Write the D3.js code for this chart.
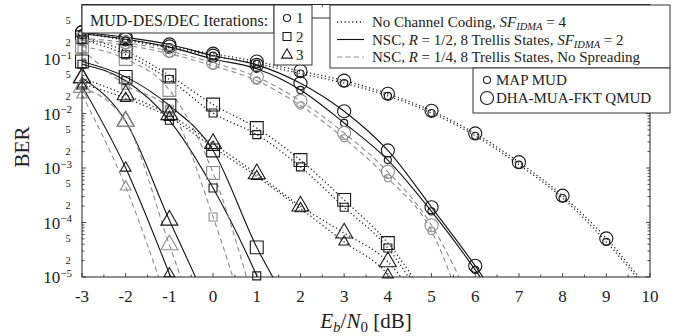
<!DOCTYPE html>
<html>
<head>
<meta charset="utf-8">
<script src="https://cdn.jsdelivr.net/npm/d3@7"></script>
<style>
  body { margin: 0; background: #fff; }
  svg { display: block; font-family: "Liberation Serif", "DejaVu Serif", serif; }
</style>
</head>
<body>
<svg id="chart" width="680" height="336"></svg>
<script>
// Eb/N0 grid [dB]
const ebn0 = [-3, -2, -1, 0, 1, 2, 3, 4, 5, 6, 7, 8, 9, 10];

// BER values (null = not simulated)
// 1 iteration (circles)
const ncIt1Map = [0.30, 0.22, 0.16, 0.115, 0.082, 0.054, 0.036, 0.021, 0.0102, 0.0039, 0.00115, 2.8e-4, 4.4e-5, 5e-6];
const ncIt1Qmud = [0.31, 0.23, 0.17, 0.125, 0.09, 0.06, 0.04, 0.023, 0.0112, 0.0043, 0.00128, 3.1e-4, 5.1e-5, 5.5e-6];
const r12It1Map = [0.29, 0.23, 0.165, 0.10, 0.066, 0.027, 0.0067, 0.0014, 1.6e-4, 1.35e-5, 8e-7, null, null, null];
const r12It1Qmud = [0.31, 0.25, 0.185, 0.115, 0.078, 0.036, 0.011, 0.0021, 1.9e-4, 1.6e-5, 1e-6, null, null, null];
const r14It1Map = [0.22, 0.18, 0.125, 0.075, 0.04, 0.014, 0.0035, 6.5e-4, 7e-5, 5e-7, null, null, null, null];
const r14It1Qmud = [0.24, 0.20, 0.14, 0.085, 0.047, 0.017, 0.0044, 8.5e-4, 8.9e-5, 2.3e-6, null, null, null, null];

// 2 iterations (squares)
const ncIt2Map = [0.23, 0.12, 0.042, 0.0102, 0.0041, 0.00105, 1.9e-4, 3.4e-5, 2e-6, null, null, null, null, null];
const ncIt2Qmud = [0.25, 0.14, 0.05, 0.0146, 0.0054, 0.0014, 2.6e-4, 4.2e-5, 3e-6, null, null, null, null, null];
const r12It2Map = [0.08, 0.04, 0.0075, 4.3e-4, 1.05e-5, 1e-7, null, null, null, null, null, null, null, null];
const r12It2Qmud = [0.09, 0.047, 0.014, 0.0021, 3.5e-5, 1.4e-6, null, null, null, null, null, null, null, null];
const r14It2Map = [0.15, 0.033, 0.012, 1.26e-4, 3.4e-7, null, null, null, null, null, null, null, null, null];
const r14It2Qmud = [0.17, 0.10, 0.027, 8.1e-4, 2.2e-6, null, null, null, null, null, null, null, null, null];

// 3 iterations (triangles)
const ncIt3Map = [0.035, 0.019, 0.0085, 0.0024, 7e-4, 1.8e-4, 4.4e-5, 1.1e-5, 5e-7, null, null, null, null, null];
const ncIt3Qmud = [0.045, 0.022, 0.0095, 0.0028, 7.8e-4, 2e-4, 6.4e-5, 1.9e-5, 1.5e-6, null, null, null, null, null];
const r12It3Map = [0.032, 1.0e-3, 1.15e-5, 1e-7, null, null, null, null, null, null, null, null, null, null];
const r12It3Qmud = [0.045, 0.0072, 1.1e-4, 2e-6, null, null, null, null, null, null, null, null, null, null];
const r14It3Map = [0.022, 4.5e-4, 2.6e-6, null, null, null, null, null, null, null, null, null, null, null];
const r14It3Qmud = [0.03, 0.0071, 3.9e-5, 2e-7, null, null, null, null, null, null, null, null, null, null];

const xTicks = [-3, -2, -1, 0, 1, 2, 3, 4, 5, 6, 7, 8, 9, 10];
const yDecades = [1e-5, 1e-4, 1e-3, 1e-2, 1e-1];
const yDecadeExps = ["5", "4", "3", "2", "1"];

const codeLabels = [
  "No Channel Coding",
  "NSC, R = 1/2, 8 Trellis States",
  "NSC, R = 1/4, 8 Trellis States, No Spreading"
];
const iterLabels = ["1", "2", "3"];
const detLabels = ["MAP MUD", "DHA-MUA-FKT QMUD"];

const series = [
  { ber: ncIt1Map, code: "nc", iter: 1, det: "map" },
  { ber: ncIt1Qmud, code: "nc", iter: 1, det: "qmud" },
  { ber: r12It1Map, code: "r12", iter: 1, det: "map" },
  { ber: r12It1Qmud, code: "r12", iter: 1, det: "qmud" },
  { ber: r14It1Map, code: "r14", iter: 1, det: "map" },
  { ber: r14It1Qmud, code: "r14", iter: 1, det: "qmud" },
  { ber: ncIt2Map, code: "nc", iter: 2, det: "map" },
  { ber: ncIt2Qmud, code: "nc", iter: 2, det: "qmud" },
  { ber: r12It2Map, code: "r12", iter: 2, det: "map" },
  { ber: r12It2Qmud, code: "r12", iter: 2, det: "qmud" },
  { ber: r14It2Map, code: "r14", iter: 2, det: "map" },
  { ber: r14It2Qmud, code: "r14", iter: 2, det: "qmud" },
  { ber: ncIt3Map, code: "nc", iter: 3, det: "map" },
  { ber: ncIt3Qmud, code: "nc", iter: 3, det: "qmud" },
  { ber: r12It3Map, code: "r12", iter: 3, det: "map" },
  { ber: r12It3Qmud, code: "r12", iter: 3, det: "qmud" },
  { ber: r14It3Map, code: "r14", iter: 3, det: "map" },
  { ber: r14It3Qmud, code: "r14", iter: 3, det: "qmud" }
];

// Styles
const lineStyle = {
  nc: { dash: "1.2,2.6", color: "#222" },
  r12: { dash: null, color: "#111" },
  r14: { dash: "5,3.5", color: "#8c8c8c" }
};
const shapes = { 1: d3.symbolCircle, 2: d3.symbolSquare, 3: d3.symbolTriangle };
const symbolSize = {
  1: { map: 40, qmud: 135 },
  2: { map: 64, qmud: 165 },
  3: { map: 50, qmud: 125 }
};

// Layout
const plot = { left: 82, right: 650, top: 4.5, bottom: 277 };
const svg = d3.select("#chart");

const x = d3.scaleLinear().domain([-3, 10]).range([plot.left, plot.right]);
const y = d3.scaleLog().domain([1e-5, 1]).range([plot.bottom, plot.top]);

svg.append("rect").attr("width", 680).attr("height", 336).attr("fill", "#fff");

svg.append("clipPath").attr("id", "plot-clip")
  .append("rect")
  .attr("x", plot.left).attr("y", plot.top)
  .attr("width", plot.right - plot.left).attr("height", plot.bottom - plot.top);

// Ticks (inward, mirrored)
const ticksG = svg.append("g").attr("stroke", "#222").attr("stroke-width", 0.8);
d3.range(-3, 10.01, 0.5).forEach((v) => {
  const len = Number.isInteger(v) ? 4 : 2.5;
  ticksG.append("line").attr("x1", x(v)).attr("x2", x(v)).attr("y1", plot.bottom).attr("y2", plot.bottom - len);
  ticksG.append("line").attr("x1", x(v)).attr("x2", x(v)).attr("y1", plot.top).attr("y2", plot.top + len);
});
yDecades.concat([1]).forEach((dec) => {
  const mults = dec === 1 ? [1] : d3.range(1, 10);
  mults.forEach((m) => {
    const v = dec * m;
    const len = m === 1 ? 4 : 2.5;
    ticksG.append("line").attr("x1", plot.left).attr("x2", plot.left + len).attr("y1", y(v)).attr("y2", y(v));
    ticksG.append("line").attr("x1", plot.right).attr("x2", plot.right - len).attr("y1", y(v)).attr("y2", y(v));
  });
});

// Curves
const line = d3.line()
  .x((d) => x(d[0]))
  .y((d) => y(d[1]))
  .curve(d3.curveMonotoneX);

const curvesG = svg.append("g").attr("clip-path", "url(#plot-clip)");
series.forEach((s) => {
  const pts = ebn0.map((e, i) => [e, s.ber[i]]).filter((d) => d[1] != null);
  const st = lineStyle[s.code];
  curvesG.append("path")
    .attr("d", line(pts))
    .attr("fill", "none")
    .attr("stroke", st.color)
    .attr("stroke-width", s.code === "nc" ? 1.3 : 1.1)
    .attr("stroke-dasharray", st.dash);
});

// Markers
const markersG = svg.append("g");
series.forEach((s) => {
  const pts = ebn0.map((e, i) => [e, s.ber[i]]).filter((d) => d[1] != null && d[1] >= 0.999e-5);
  const sym = d3.symbol().type(shapes[s.iter]).size(symbolSize[s.iter][s.det]);
  markersG.selectAll(null)
    .data(pts)
    .enter()
    .append("path")
    .attr("d", sym)
    .attr("transform", (d) => `translate(${x(d[0])},${y(d[1])})`)
    .attr("fill", "none")
    .attr("stroke", s.code === "r14" ? "#8c8c8c" : "#1a1a1a")
    .attr("stroke-width", 1.1);
});

// Frame
svg.append("rect")
  .attr("x", plot.left).attr("y", plot.top)
  .attr("width", plot.right - plot.left).attr("height", plot.bottom - plot.top)
  .attr("fill", "none").attr("stroke", "#222").attr("stroke-width", 1);

// X tick labels
svg.append("g").selectAll("text")
  .data(xTicks)
  .enter()
  .append("text")
  .attr("x", (d) => x(d))
  .attr("y", 302)
  .attr("text-anchor", "middle")
  .attr("font-size", 17)
  .attr("fill", "#222")
  .text((d) => String(d));

// Y tick labels
const yLab = svg.append("g").attr("fill", "#222");
yDecades.forEach((dec, i) => {
  const t = yLab.append("text")
    .attr("x", 72)
    .attr("y", y(dec) + 6)
    .attr("text-anchor", "end")
    .attr("font-size", 17);
  t.append("tspan").text("10");
  t.append("tspan").attr("dy", -6.5).attr("font-size", 11).text("\u2212" + yDecadeExps[i]);
});
yDecades.forEach((dec) => {
  [2, 5].forEach((m) => {
    yLab.append("text")
      .attr("x", 68)
      .attr("y", y(dec * m) + 3)
      .attr("text-anchor", "middle")
      .attr("font-size", 10.5)
      .text(String(m));
  });
});

// Axis titles
const xt = svg.append("text")
  .attr("x", 366).attr("y", 328)
  .attr("text-anchor", "middle")
  .attr("font-size", 21)
  .attr("fill", "#222");
xt.append("tspan").attr("font-style", "italic").text("E");
xt.append("tspan").attr("font-style", "italic").attr("font-size", 15).attr("dy", 4).text("b");
xt.append("tspan").attr("dy", -4).text("/");
xt.append("tspan").attr("font-style", "italic").text("N");
xt.append("tspan").attr("font-size", 15).attr("dy", 4).text("0");
xt.append("tspan").attr("dy", -4).text(" [dB]");

svg.append("text")
  .attr("transform", "translate(29,147) rotate(-90)")
  .attr("text-anchor", "middle")
  .attr("font-size", 21)
  .attr("fill", "#222")
  .text("BER");

// Legends
const leg = svg.append("g").attr("fill", "#222");
function box(x0, y0, w, h) {
  leg.append("rect").attr("x", x0).attr("y", y0).attr("width", w).attr("height", h)
    .attr("fill", "#fff").attr("stroke", "#333").attr("stroke-width", 1);
}

box(82, 5, 192, 28);
leg.append("text").attr("x", 90).attr("y", 26).attr("font-size", 16).text("MUD-DES/DEC Iterations:");

box(274, 5, 38, 60);
iterLabels.forEach((lab, i) => {
  const cy = 18 + i * 18.5;
  leg.append("path")
    .attr("d", d3.symbol().type(shapes[i + 1]).size(symbolSize[i + 1].map)())
    .attr("transform", `translate(287,${cy})`)
    .attr("fill", "none").attr("stroke", "#1a1a1a").attr("stroke-width", 1.1);
  leg.append("text").attr("x", 296).attr("y", cy + 5).attr("font-size", 15).text(lab);
});

leg.append("line").attr("x1", 312).attr("x2", 330).attr("y1", 18).attr("y2", 18)
  .attr("stroke", "#333").attr("stroke-width", 1);

box(330, 5, 340, 63);
["nc", "r12", "r14"].forEach((code, i) => {
  const cy = 22 + i * 17.5;
  const st = lineStyle[code];
  leg.append("line").attr("x1", 337).attr("x2", 364).attr("y1", cy).attr("y2", cy)
    .attr("stroke", st.color).attr("stroke-width", code === "nc" ? 1.3 : 1.1)
    .attr("stroke-dasharray", st.dash);
  const t = leg.append("text").attr("x", 372).attr("y", cy + 5).attr("font-size", 15);
  if (code === "nc") {
    t.append("tspan").text(codeLabels[0] + ", ");
  } else {
    t.append("tspan").text("NSC, ");
    t.append("tspan").attr("font-style", "italic").text("R");
    t.append("tspan").text(codeLabels[i].slice(6));
  }
  if (code !== "r14") {
    if (code === "r12") t.append("tspan").text(", ");
    t.append("tspan").attr("font-style", "italic").text("SF");
    t.append("tspan").attr("font-style", "italic").attr("font-size", 10.5).attr("dy", 3).text("IDMA");
    t.append("tspan").attr("dy", -3).text(code === "nc" ? " = 4" : " = 2");
  }
});

box(473, 68, 197, 45);
detLabels.forEach((lab, i) => {
  const cy = 80 + i * 18;
  const det = i === 0 ? "map" : "qmud";
  leg.append("path")
    .attr("d", d3.symbol().type(d3.symbolCircle).size(symbolSize[1][det])())
    .attr("transform", `translate(487,${cy})`)
    .attr("fill", "none").attr("stroke", "#1a1a1a").attr("stroke-width", 1.1);
  leg.append("text").attr("x", 496).attr("y", cy + 5).attr("font-size", 15).text(lab);
});
</script>
</body>
</html>
